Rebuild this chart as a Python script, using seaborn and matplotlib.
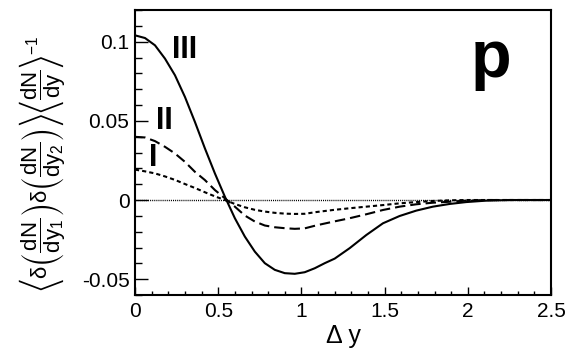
import numpy as np
import pandas as pd
import matplotlib
matplotlib.use("Agg")
import matplotlib.pyplot as plt
import seaborn as sns
from matplotlib.ticker import FixedLocator, MultipleLocator

# ---- data ----
dy_III = [0.0, 0.06, 0.12, 0.18, 0.24, 0.30, 0.36, 0.42, 0.48, 0.54, 0.60, 0.66,
          0.72, 0.78, 0.84, 0.90, 0.96, 1.02, 1.08, 1.14, 1.20, 1.29, 1.39, 1.49,
          1.59, 1.69, 1.79, 1.89, 1.99, 2.11, 2.25, 2.5]
c_III = [0.104, 0.1023, 0.0977, 0.0893, 0.0788, 0.0651, 0.0493, 0.0326, 0.0168,
         0.0021, -0.0115, -0.0231, -0.0326, -0.0399, -0.0441, -0.0462, -0.0466,
         -0.0456, -0.0431, -0.0399, -0.0370, -0.0304, -0.0221, -0.0147, -0.0101,
         -0.0067, -0.0042, -0.0025, -0.0013, -0.0004, 0.0, 0.0]

dy_II = [0.0, 0.06, 0.12, 0.18, 0.24, 0.30, 0.36, 0.42, 0.48, 0.54, 0.60, 0.66,
         0.72, 0.78, 0.84, 0.90, 0.96, 1.02, 1.09, 1.19, 1.29, 1.39, 1.49, 1.59,
         1.69, 1.79, 1.89, 1.99, 2.11, 2.5]
c_II = [0.0399, 0.0395, 0.0372, 0.0336, 0.0294, 0.0241, 0.0178, 0.0126, 0.0063,
        0.0011, -0.0042, -0.0098, -0.0136, -0.0161, -0.0172, -0.0178, -0.0182,
        -0.0179, -0.0160, -0.0137, -0.0115, -0.0090, -0.0063, -0.0042, -0.0027,
        -0.0017, -0.0011, -0.0004, 0.0, 0.0]

dy_I = [0.0, 0.06, 0.12, 0.18, 0.24, 0.30, 0.36, 0.42, 0.48, 0.54, 0.60, 0.66,
        0.72, 0.78, 0.84, 0.90, 0.96, 1.02, 1.09, 1.19, 1.29, 1.39, 1.49, 1.59,
        1.69, 1.79, 1.89, 1.99, 2.5]
c_I = [0.0192, 0.0181, 0.0168, 0.0149, 0.0127, 0.0101, 0.0076, 0.0049, 0.0023,
       0.0, -0.0025, -0.0046, -0.0062, -0.0073, -0.0081, -0.0086, -0.0088, -0.0087,
       -0.0076, -0.0063, -0.0052, -0.0042, -0.0032, -0.0021, -0.0013, -0.0006,
       -0.0002, 0.0, 0.0]

curve_labels = ["III", "II", "I"]
xticks = [0, 0.5, 1, 1.5, 2, 2.5]
xtick_labels = ["0", "0.5", "1", "1.5", "2", "2.5"]
yticks = [-0.05, 0, 0.05, 0.1]
ytick_labels = ["-0.05", "0", "0.05", "0.1"]
panel_label = "p"

# ---- styling ----
sns.set_style("ticks")
plt.rcParams["font.family"] = ["Liberation Sans", "DejaVu Sans"]
plt.rcParams["text.color"] = "black"
plt.rcParams["axes.labelcolor"] = "black"
plt.rcParams["mathtext.fontset"] = "custom"
plt.rcParams["mathtext.rm"] = "Liberation Sans"
plt.rcParams["mathtext.it"] = "Liberation Sans"
plt.rcParams["mathtext.bf"] = "Liberation Sans:bold"
plt.rcParams["mathtext.fallback"] = "stixsans"
plt.rcParams["lines.scale_dashes"] = False

fig = plt.figure(figsize=(5.81, 3.56), dpi=100)
ax = fig.add_axes([0.2324, 0.1713, 0.716, 0.8006])

ax.axhline(0, color="black", lw=1.0, linestyle=(0, (0.75, 0.75)), zorder=1)

lw = 1.5
sns.lineplot(x=dy_III, y=c_III, ax=ax, color="black", lw=lw, linestyle="-")
sns.lineplot(x=dy_II, y=c_II, ax=ax, color="black", lw=lw, linestyle=(0, (7.5, 3.6)))
sns.lineplot(x=dy_I, y=c_I, ax=ax, color="black", lw=lw, linestyle=(0, (3.0, 2.2)))

ax.set_xlim(0, 2.5)
ax.set_ylim(-0.06, 0.12)

ax.xaxis.set_major_locator(FixedLocator(xticks))
ax.set_xticklabels(xtick_labels)
ax.yaxis.set_major_locator(FixedLocator(yticks))
ax.set_yticklabels(ytick_labels)
ax.xaxis.set_minor_locator(MultipleLocator(0.1))
ax.yaxis.set_minor_locator(MultipleLocator(0.01))

ax.tick_params(axis="both", which="both", direction="in", top=False, right=False,
               labelsize=15, colors="black")
ax.tick_params(axis="x", which="major", length=5.8, width=1.0, pad=5)
ax.tick_params(axis="x", which="minor", length=2.9, width=1.0)
ax.tick_params(axis="y", which="major", length=9.4, width=1.0, pad=4)
ax.tick_params(axis="y", which="minor", length=5.0, width=1.0)
for s in ax.spines.values():
    s.set_visible(True)
    s.set_linewidth(1.5)
    s.set_color("black")

ax.set_xlabel("\u0394 y", fontsize=18, va="baseline")
ax.xaxis.set_label_coords(0.5, -0.168)
ax.set_ylabel("")

ax.text(0.30, 0.0899, curve_labels[0], fontsize=22, fontweight="bold", ha="center", va="baseline")
ax.text(0.179, 0.0446, curve_labels[1], fontsize=22, fontweight="bold", ha="center", va="baseline")
ax.text(0.107, 0.0214, curve_labels[2], fontsize=22, fontweight="bold", ha="center", va="baseline")
ax.text(2.14, 0.078, panel_label, fontsize=48, fontweight="bold", ha="center", va="baseline")

ylab = (r"$\left\langle \delta\left(\dfrac{dN}{dy_1}\right)\delta\left(\dfrac{dN}{dy_2}\right)\right\rangle"
        r"\left\langle\dfrac{dN}{dy}\right\rangle^{-1}$")
fig.text(0.073, 0.54, ylab, rotation=90, ha="center", va="center", fontsize=16)

fig.savefig("out.png", dpi=100)
